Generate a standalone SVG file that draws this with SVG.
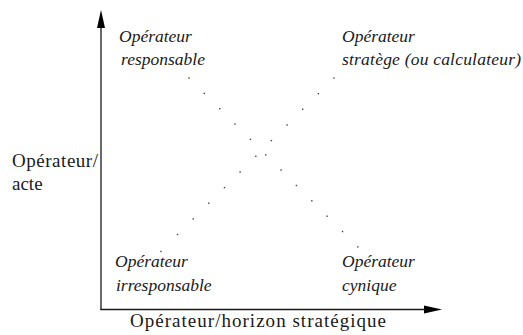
<svg xmlns="http://www.w3.org/2000/svg" width="523" height="335" viewBox="0 0 523 335">
<style>
.it{font-family:"Liberation Serif","Times New Roman",serif;font-style:italic;font-size:17.5px;fill:#1a1a1a}
.up{font-family:"Liberation Serif","Times New Roman",serif;font-size:19px;fill:#1a1a1a}
.axis{stroke:#1a1a1a;stroke-width:1.3;fill:none}
.head{fill:#000}
.dot{fill:#444}
</style>
<rect width="523" height="335" fill="#fff"/>
<g id="connectors">
<line class="axis" x1="101" y1="310" x2="101" y2="26"/>
<polygon class="head" points="101,10 97,28 105,28"/>
<line class="axis" x1="100.4" y1="309.5" x2="426" y2="309.5"/>
<polygon class="head" points="442,309.5 424,305.5 424,313.5"/>
<g id="dots-responsable-cynique">
<rect class="dot" x="188.3" y="77.3" width="1.4" height="1.4"/>
<rect class="dot" x="203.6" y="92.7" width="1.4" height="1.4"/>
<rect class="dot" x="219" y="108" width="1.4" height="1.4"/>
<rect class="dot" x="234.3" y="123.4" width="1.4" height="1.4"/>
<rect class="dot" x="249.7" y="138.7" width="1.4" height="1.4"/>
<rect class="dot" x="265" y="154.1" width="1.4" height="1.4"/>
<rect class="dot" x="280.4" y="169.4" width="1.4" height="1.4"/>
<rect class="dot" x="295.7" y="184.8" width="1.4" height="1.4"/>
<rect class="dot" x="311.1" y="200.1" width="1.4" height="1.4"/>
<rect class="dot" x="326.4" y="215.5" width="1.4" height="1.4"/>
<rect class="dot" x="341.8" y="230.8" width="1.4" height="1.4"/>
<rect class="dot" x="357.1" y="246.2" width="1.4" height="1.4"/>
</g>
<g id="dots-stratege-irresponsable">
<rect class="dot" x="333.3" y="77.3" width="1.4" height="1.4"/>
<rect class="dot" x="317.7" y="93" width="1.4" height="1.4"/>
<rect class="dot" x="302" y="108.6" width="1.4" height="1.4"/>
<rect class="dot" x="286.4" y="124.3" width="1.4" height="1.4"/>
<rect class="dot" x="270.7" y="139.9" width="1.4" height="1.4"/>
<rect class="dot" x="255.1" y="155.6" width="1.4" height="1.4"/>
<rect class="dot" x="239.4" y="171.2" width="1.4" height="1.4"/>
<rect class="dot" x="223.8" y="186.9" width="1.4" height="1.4"/>
<rect class="dot" x="208.1" y="202.5" width="1.4" height="1.4"/>
<rect class="dot" x="192.5" y="218.2" width="1.4" height="1.4"/>
<rect class="dot" x="176.8" y="233.8" width="1.4" height="1.4"/>
<rect class="dot" x="160.3" y="250.8" width="1.4" height="1.4"/>
</g>
</g>
<g id="responsable">
<text class="it" x="119" y="42">Opérateur</text>
<text class="it" x="121" y="65">responsable</text>
</g>
<g id="stratege">
<text class="it" x="342" y="42">Opérateur</text>
<text class="it" x="342" y="65" textLength="179" lengthAdjust="spacing">stratège (ou calculateur)</text>
</g>
<g id="irresponsable">
<text class="it" x="115" y="267">Opérateur</text>
<text class="it" x="116" y="291">irresponsable</text>
</g>
<g id="cynique">
<text class="it" x="342" y="267">Opérateur</text>
<text class="it" x="342" y="291">cynique</text>
</g>
<g id="axis-y-label">
<text class="up" x="12" y="167" textLength="86" lengthAdjust="spacing">Opérateur/</text>
<text class="up" x="12" y="190">acte</text>
</g>
<g id="axis-x-label">
<text class="up" x="130" y="327" textLength="256" lengthAdjust="spacing">Opérateur/horizon stratégique</text>
</g>
</svg>
